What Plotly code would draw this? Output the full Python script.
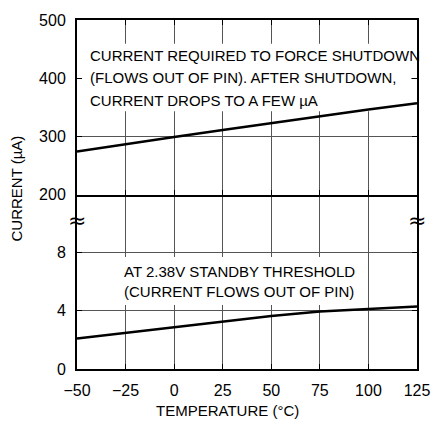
import plotly.graph_objects as go

# Temperature sweep (°C)
temperature = [-50, -25, 0, 25, 50, 75, 100, 125]
# Current needed to force shutdown (µA)
shutdown_current = [274, 287, 299, 311, 323, 335, 346, 357]
# Current at the 2.38V standby threshold (µA)
standby_current = [2.1, 2.5, 2.9, 3.3, 3.65, 3.95, 4.15, 4.3]

x_ticks = [-50, -25, 0, 25, 50, 75, 100, 125]
x_ticktext = ["\u221250", "\u221225", "0", "25", "50", "75", "100", "125"]
upper_ticks = [200, 300, 400, 500]
lower_ticks = [0, 4, 8]

FONT = "Liberation Sans, Arial, sans-serif"
GRID = "#555555"

fig = go.Figure()

# lower panel (y), upper panel (y2) sharing the temperature axis
fig.add_trace(go.Scatter(x=temperature, y=standby_current, mode="lines",
                         line=dict(color="black", width=2.6),
                         xaxis="x", yaxis="y", showlegend=False))
fig.add_trace(go.Scatter(x=temperature, y=shutdown_current, mode="lines",
                         line=dict(color="black", width=2.6),
                         xaxis="x2", yaxis="y2", showlegend=False))

axis_common = dict(showline=True, linecolor="black", linewidth=2, mirror="allticks",
                   ticks="inside", ticklen=5, tickcolor="black", tickwidth=1,
                   showgrid=True, gridcolor=GRID, gridwidth=1, zeroline=False,
                   tickfont=dict(family=FONT, size=16, color="black"))

fig.update_layout(
    width=442, height=424,
    margin=dict(l=77, r=14, t=17, b=55),
    paper_bgcolor="white", plot_bgcolor="white",
    # bottom axis draws only the lower frame edge; the upper panel supplies the 200 line
    xaxis=dict(axis_common, mirror=False, range=[-50, 125], tickvals=x_ticks,
               ticktext=x_ticktext, domain=[0, 1], anchor="y", ticklabelstandoff=6),
    xaxis2=dict(axis_common, range=[-50, 125], tickvals=x_ticks, showticklabels=False,
                domain=[0, 1], anchor="y2", matches="x"),
    yaxis=dict(axis_common, range=[0, 12], tickvals=lower_ticks, domain=[0, 0.5],
               anchor="x", ticklabelstandoff=6),
    yaxis2=dict(axis_common, range=[200, 500], tickvals=upper_ticks, domain=[0.5, 1],
                anchor="x2", ticklabelstandoff=6),
)

# white panels behind the notes hide the grid but not the curves
fig.add_shape(type="rect", xref="x2", yref="y2", x0=-47.5, x1=122, y0=343, y1=459,
              fillcolor="white", line=dict(width=0), layer="between")
fig.add_shape(type="rect", xref="x", yref="y", x0=-28.6, x1=93, y0=4.4, y1=7.7,
              fillcolor="white", line=dict(width=0), layer="between")

note_font = dict(family=FONT, size=15, color="black")
upper_note = ["CURRENT REQUIRED TO FORCE SHUTDOWN",
              "(FLOWS OUT OF PIN). AFTER SHUTDOWN,",
              "CURRENT DROPS TO A FEW \u00b5A"]
for text, yp in zip(upper_note, [0.8969, 0.8344, 0.7705]):
    fig.add_annotation(xref="paper", yref="paper", x=0.0313, y=yp, text=text,
                       showarrow=False, xanchor="left", yanchor="middle", font=note_font)
lower_note = ["AT 2.38V STANDBY THRESHOLD", "(CURRENT FLOWS OUT OF PIN)"]
for text, yp in zip(lower_note, [0.279, 0.2207]):
    fig.add_annotation(xref="paper", yref="paper", x=0.131, y=yp, text=text,
                       showarrow=False, xanchor="left", yanchor="middle", font=note_font)

# axis titles
fig.add_annotation(xref="paper", yref="paper", x=0.444, y=-0.119,
                   xanchor="center", yanchor="middle",
                   text="TEMPERATURE (\u00b0C)", showarrow=False,
                   font=dict(family=FONT, size=15, color="black"))
fig.add_annotation(xref="paper", yref="paper", x=-0.1766, y=0.517,
                   xanchor="center", yanchor="middle",
                   text="CURRENT (\u00b5A)", textangle=-90, showarrow=False,
                   font=dict(family=FONT, size=15, color="black"))

# axis-break marks on both frame edges
for xp in [0, 1]:
    fig.add_annotation(xref="paper", yref="paper", x=xp, y=0.426, text="\u2248",
                       xanchor="center", yanchor="middle", showarrow=False,
                       font=dict(family="DejaVu Sans, sans-serif", size=22, color="black"))

fig.write_html("out.html")
